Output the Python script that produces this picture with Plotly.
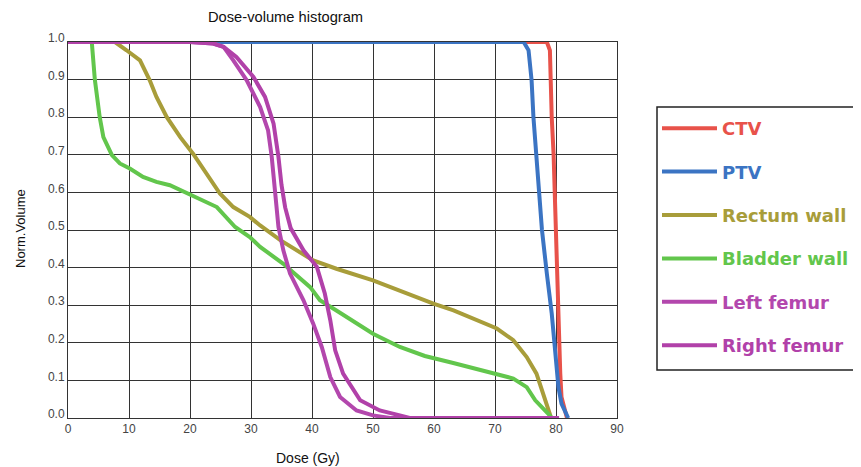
import plotly.graph_objects as go

# ---- data ----
ctv_dose = [0, 78.5, 79.0, 79.1, 79.3, 79.6, 79.8, 80.0, 80.1, 80.4, 80.7, 80.9, 81.5, 81.8]
ctv_vol = [1.0, 1.0, 0.978, 0.898, 0.80, 0.703, 0.588, 0.50, 0.40, 0.224, 0.118, 0.056, 0.012, 0.0]

ptv_dose = [0, 74.7, 75.5, 76.0, 76.3, 76.7, 77.1, 77.7, 78.5, 79.3, 79.8, 80.4, 80.9, 81.7, 82.0]
ptv_vol = [1.0, 1.0, 0.978, 0.898, 0.80, 0.703, 0.606, 0.50, 0.384, 0.278, 0.189, 0.082, 0.038, 0.007, 0.0]

rectum_dose = [0, 7.7, 9.6, 11.8, 13.4, 14.5, 16.2, 18.4, 20.5, 22.7, 24.9, 27.1, 29.8, 31.5,
               34.8, 40.2, 44.0, 50.0, 55.5, 59.9, 63.2, 70.3, 73.0, 75.2, 76.8, 77.9, 79.0, 79.2]
rectum_vol = [1.0, 1.0, 0.978, 0.951, 0.898, 0.854, 0.80, 0.747, 0.703, 0.65, 0.597, 0.561, 0.535, 0.512,
              0.473, 0.419, 0.397, 0.366, 0.331, 0.304, 0.286, 0.238, 0.207, 0.162, 0.118, 0.065, 0.012, 0.0]

bladder_dose = [0, 3.9, 4.4, 5.2, 5.8, 7.2, 8.5, 10.2, 12.3, 14.5, 16.7, 19.5, 21.6, 24.4, 27.4,
                29.8, 31.5, 35.3, 39.7, 41.3, 44.0, 50.0, 54.4, 58.5, 63.0, 70.3, 73.0, 75.2, 76.6, 78.7, 79.3]
bladder_vol = [1.0, 1.0, 0.90, 0.80, 0.747, 0.699, 0.677, 0.663, 0.641, 0.628, 0.619, 0.597, 0.583, 0.561, 0.508,
               0.481, 0.455, 0.41, 0.348, 0.313, 0.286, 0.224, 0.189, 0.165, 0.147, 0.118, 0.105, 0.082, 0.047, 0.012, 0.0]

lfemur_dose = [0, 20.0, 23.8, 25.5, 27.1, 29.3, 31.5, 32.8, 33.4, 33.8, 34.1, 34.5, 35.3, 36.4, 38.6,
               40.2, 41.6, 43.0, 44.6, 47.3, 50.0, 52.8, 80.5]
lfemur_vol = [1.0, 1.0, 0.996, 0.987, 0.951, 0.898, 0.827, 0.765, 0.694, 0.62, 0.57, 0.508, 0.446, 0.384, 0.313,
              0.251, 0.189, 0.109, 0.056, 0.02, 0.007, 0.0, 0.0]

rfemur_dose = [0, 20.0, 23.8, 25.5, 27.6, 30.4, 32.3, 33.7, 34.5, 35.0, 35.6, 36.5, 38.6, 40.8, 42.1,
               43.0, 43.8, 45.1, 47.9, 51.1, 54.4, 56.0, 80.5]
rfemur_vol = [1.0, 1.0, 0.996, 0.987, 0.96, 0.907, 0.854, 0.783, 0.694, 0.62, 0.56, 0.505, 0.446, 0.402, 0.331,
              0.26, 0.18, 0.118, 0.047, 0.02, 0.007, 0.0, 0.0]

series_names = ["CTV", "PTV", "Rectum wall", "Bladder wall", "Left femur", "Right femur"]
series_colors = ["#E8524A", "#3B74C3", "#A89D3A", "#62C64C", "#B347AD", "#B141A9"]
series_x = [ctv_dose, ptv_dose, rectum_dose, bladder_dose, lfemur_dose, rfemur_dose]
series_y = [ctv_vol, ptv_vol, rectum_vol, bladder_vol, lfemur_vol, rfemur_vol]

x_ticks = [0, 10, 20, 30, 40, 50, 60, 70, 80, 90]
y_ticks = [0.0, 0.1, 0.2, 0.3, 0.4, 0.5, 0.6, 0.7, 0.8, 0.9, 1.0]

# ---- layout geometry (page body adds an 8px offset) ----
OFF = 8
W, H = 861 - OFF, 467 - OFF
ML, MR, MT, MB = 68 - OFF, 244, 42 - OFF, 49
PW, PH = W - ML - MR, H - MT - MB


def px2paper(px, py):
    """screen pixel -> paper coords"""
    return (px - OFF - ML) / PW, (H - (py - OFF) - MB) / PH


fig = go.Figure()
for name, color, xs, ys in zip(series_names, series_colors, series_x, series_y):
    fig.add_trace(go.Scatter(
        x=xs, y=ys, mode="lines", line=dict(color=color, width=4),
        name=f"<b><span style='color:{color}'>{name}</span></b>",
        legendgroup=name,
    ))

grid_col = "#333333"
lx, ly = px2paper(657, 110)
fig.update_layout(
    width=W, height=H,
    margin=dict(l=ML, r=MR, t=MT, b=MB, autoexpand=False),
    paper_bgcolor="white", plot_bgcolor="white",
    font=dict(family="Liberation Sans, Arial, sans-serif", color="#222"),
    showlegend=True,
    legend=dict(
        x=lx, y=ly, xanchor="left", yanchor="top",
        borderwidth=0,
        font=dict(family="DejaVu Sans, Verdana, sans-serif", size=18),
        tracegroupgap=17, itemwidth=55,
        bgcolor="rgba(0,0,0,0)",
    ),
    xaxis=dict(
        range=[0, 90], tickvals=x_ticks, ticktext=[str(t) for t in x_ticks],
        showgrid=True, gridcolor=grid_col, gridwidth=1,
        showline=True, linecolor=grid_col, linewidth=1, mirror=True,
        ticks="", tickfont=dict(size=12, color="#444"), zeroline=False,
        automargin=False,
    ),
    yaxis=dict(
        range=[0, 1.0], tickvals=y_ticks, ticktext=[f"{t:.1f}" for t in y_ticks],
        showgrid=True, gridcolor=grid_col, gridwidth=1,
        showline=True, linecolor=grid_col, linewidth=1, mirror=True,
        ticks="", tickfont=dict(size=12, color="#444"), zeroline=False,
        ticklabelstandoff=0, ticklabelshift=-4, automargin=False,
    ),
)

# legend frame
bx0, by0 = px2paper(657, 107)
bx1, by1 = px2paper(858, 370)
fig.add_shape(type="rect", xref="paper", yref="paper", x0=bx0, y0=by1, x1=bx1, y1=by0,
              line=dict(color="#222", width=1.5), fillcolor="rgba(0,0,0,0)")

# titles
for text, px, py, size, angle in [
    ("Dose-volume histogram", 285, 17, 14.7, 0),
    ("Dose (Gy)", 308, 458, 14, 0),
    ("Norm.Volume", 20, 229, 13, -90),
]:
    ax, ay = px2paper(px, py)
    fig.add_annotation(text=text, x=ax, y=ay, xref="paper", yref="paper",
                       xanchor="center", yanchor="middle", showarrow=False,
                       textangle=angle, font=dict(size=size, color="#111"))

fig.write_html("out.html")
